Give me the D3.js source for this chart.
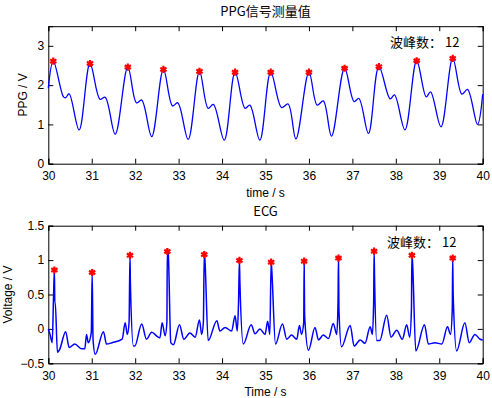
<!DOCTYPE html>
<html>
<head>
<meta charset="utf-8">
<script src="https://cdn.jsdelivr.net/npm/d3@7"></script>
<style>
  body { margin: 0; background: #fff; }
  text { font-family: "Liberation Sans", Arial, sans-serif; }
  .cjk { font-family: "Noto Sans CJK SC", "Liberation Sans", sans-serif; }
</style>
</head>
<body>
<div class="container"></div>
<script>
const WIDTH = 492;
const HEIGHT = 398;

// PPG key points (time in s, value in V)
var ppgTime = [30.0, 30.115, 30.35, 30.40, 30.48, 30.71, 30.96, 31.19, 31.31, 31.54, 31.83, 32.03, 32.15, 32.38,
    32.65, 32.86, 32.98, 33.22, 33.48, 33.68, 33.80, 34.05, 34.30, 34.53, 34.64, 34.87, 35.12, 35.37, 35.52, 35.70,
    36.0, 36.19, 36.33, 36.52, 36.82, 37.04, 37.15, 37.37, 37.61, 37.87, 37.97, 38.21, 38.48, 38.70, 38.80, 39.04,
    39.31, 39.52, 39.65, 39.88, 40.0];
var ppgValue = [1.92, 2.61, 1.70, 1.68, 1.78, 0.86, 2.55, 1.64, 1.69, 0.75, 2.46, 1.55, 1.62, 0.69,
    2.40, 1.47, 1.55, 0.62, 2.35, 1.41, 1.51, 0.60, 2.33, 1.41, 1.49, 0.60, 2.33, 1.43, 1.52, 0.63,
    2.33, 1.49, 1.60, 0.70, 2.43, 1.58, 1.66, 0.77, 2.47, 1.65, 1.75, 0.86, 2.62, 1.70, 1.83, 0.94,
    2.68, 1.77, 1.89, 1.00, 1.77];
var ppgPeakTime = [30.115, 30.96, 31.83, 32.65, 33.48, 34.30, 35.12, 36.0, 36.82, 37.61, 38.48, 39.31];
var ppgPeakValue = [2.61, 2.55, 2.46, 2.40, 2.35, 2.33, 2.33, 2.33, 2.43, 2.47, 2.62, 2.68];

// ECG key points (time in s, voltage in V)
var ecgTime = [30.0, 30.04, 30.09, 30.12, 30.14, 30.15, 30.16, 30.21, 30.26, 30.40, 30.48, 30.61, 30.77, 30.84,
    30.88, 30.92, 30.99, 31.01, 31.03, 31.08, 31.27, 31.34, 31.47, 31.70, 31.77, 31.82, 31.86, 31.88, 31.89, 31.96, 31.99,
    32.15, 32.26, 32.38, 32.53, 32.57, 32.62, 32.69, 32.73, 32.74, 32.76, 32.82, 32.88, 33.02, 33.12, 33.26, 33.38,
    33.48, 33.53, 33.57, 33.59, 33.60, 33.68, 33.88, 33.95, 34.07, 34.22, 34.30, 34.35, 34.38, 34.40, 34.41, 34.49,
    34.67, 34.76, 34.87, 34.99, 35.05, 35.10, 35.13, 35.14, 35.23, 35.39, 35.49, 35.60, 35.72, 35.78, 35.83, 35.88,
    35.89, 35.90, 35.99, 36.14, 36.22, 36.33, 36.45, 36.56, 36.64, 36.67, 36.68, 36.69, 36.75, 36.95, 37.04, 37.18,
    37.29, 37.41, 37.46, 37.49, 37.50, 37.51, 37.56, 37.63, 37.79, 37.89, 38.02, 38.15, 38.25, 38.32, 38.36, 38.37,
    38.38, 38.46, 38.66, 38.75, 38.90, 39.06, 39.19, 39.26, 39.30, 39.31, 39.32, 39.40, 39.59, 39.69, 39.82, 39.94, 40.0];
var ecgValue = [0.0, -0.08, -0.20, 0.45, 0.855, 0.38, 0.38, -0.34, -0.30, -0.04, -0.27, -0.22, -0.29, -0.29,
    -0.08, -0.20, -0.05, 0.82, -0.15, -0.37, -0.04, -0.22, -0.20, -0.15, 0.09, -0.08, 0.10, 1.07, 0.66, -0.25, -0.25,
    0.07, -0.15, -0.05, -0.12, -0.13, 0.09, -0.10, 0.10, 1.125, 1.10, -0.20, -0.23, 0.06, -0.15, -0.06, -0.12,
    0.13, -0.08, 0.10, 1.08, 1.05, -0.17, 0.12, -0.03, 0.02, -0.03, 0.19, -0.03, 0.40, 0.995, 0.70, -0.22,
    0.06, -0.07, 0.0, -0.08, 0.11, -0.08, 0.97, 0.90, -0.22, 0.07, -0.15, -0.09, -0.15, 0.05, -0.08, 0.10,
    0.985, 0.20, -0.31, 0.02, -0.16, -0.09, -0.14, 0.08, -0.08, 0.40, 1.03, 0.30, -0.26, 0.05, -0.25, -0.16,
    -0.21, 0.03, -0.08, 0.40, 1.13, 0.77, -0.17, -0.17, 0.20, -0.12, -0.02, -0.15, 0.06, -0.12, 0.30, 1.07,
    1.02, -0.32, 0.06, -0.22, -0.20, -0.22, 0.03, -0.08, 0.30, 1.03, 0.50, -0.32, 0.09, -0.20, -0.08, -0.15, -0.16];
var ecgPeakTime = [30.14, 31.01, 31.88, 32.74, 33.59, 34.40, 35.13, 35.89, 36.68, 37.50, 38.37, 39.31];
var ecgPeakValue = [0.855, 0.82, 1.07, 1.125, 1.08, 0.995, 0.97, 0.985, 1.03, 1.13, 1.07, 1.03];

var xTicks = [30, 31, 32, 33, 34, 35, 36, 37, 38, 39, 40];
var ppgYTicks = [0, 1, 2, 3];
var ecgYTicks = [-0.5, 0, 0.5, 1, 1.5];

var drawPanel = function(svg, opt){
    var x = d3.scaleLinear().domain([30, 40]).range([48.3, 482.7]);
    var y = d3.scaleLinear().domain(opt.yDomain).range([opt.bottom, opt.top]);
    var g = svg.append("g");

    // axes, MATLAB style: ticks inside on all four sides
    var tick = 5;
    g.append("g").attr("transform", "translate(0," + opt.bottom + ")")
        .call(d3.axisBottom(x).tickValues(xTicks).tickSize(-tick).tickPadding(8).tickFormat(d3.format("d")));
    g.append("g").attr("transform", "translate(0," + opt.top + ")")
        .call(d3.axisTop(x).tickValues(xTicks).tickSize(-tick).tickFormat(""));
    g.append("g").attr("transform", "translate(48.3,0)")
        .call(d3.axisLeft(y).tickValues(opt.yTicks).tickSize(-tick).tickPadding(4).tickFormat(d3.format("")));
    g.append("g").attr("transform", "translate(482.7,0)")
        .call(d3.axisRight(y).tickValues(opt.yTicks).tickSize(-tick).tickFormat(""));
    g.selectAll(".domain").attr("stroke", "#000");
    g.selectAll(".tick line").attr("stroke", "#000");
    g.selectAll(".tick text").attr("font-size", 12).attr("fill", "#000");

    var line = d3.line()
        .x(function(d){ return x(d[0]); })
        .y(function(d){ return y(d[1]); })
        .curve(opt.curve);
    g.append("path")
        .datum(d3.zip(opt.t, opt.v))
        .attr("d", line)
        .attr("fill", "none")
        .attr("stroke", "#0000ff")
        .attr("stroke-width", opt.lw);

    var star = d3.symbol().type(d3.symbolAsterisk).size(36);
    g.selectAll(".pk").data(d3.zip(opt.pt, opt.pv)).enter()
        .append("path")
        .attr("class", "pk")
        .attr("transform", function(d){ return "translate(" + x(d[0]) + "," + y(d[1]) + ")"; })
        .attr("d", star)
        .attr("fill", "none")
        .attr("stroke", "#ff0000")
        .attr("stroke-width", 2.2);

    var mid = (48.3 + 482.7) / 2;
    svg.append("text").attr("x", mid).attr("y", opt.top - 10)
        .attr("text-anchor", "middle").attr("font-size", 13).attr("class", "cjk").text(opt.title);
    svg.append("text").attr("x", mid).attr("y", opt.bottom + 33)
        .attr("text-anchor", "middle").attr("font-size", 12).text(opt.xLabel);
    svg.append("text")
        .attr("transform", "translate(" + opt.yLabelX + "," + (opt.top + opt.bottom) / 2 + ") rotate(-90)")
        .attr("text-anchor", "middle").attr("font-size", 12).text(opt.yLabel);
    svg.append("text").attr("x", opt.noteX).attr("y", opt.top + 21)
        .attr("font-size", 13).attr("class", "cjk").text("波峰数： " + opt.pt.length);
};

var load = function(){
    var svg = d3.select(".container")
        .append("svg")
        .attr("width", WIDTH)
        .attr("height", HEIGHT);

    drawPanel(svg, {top: 26.2, bottom: 163.7, yDomain: [0, 3.5], yTicks: ppgYTicks,
        t: ppgTime, v: ppgValue, pt: ppgPeakTime, pv: ppgPeakValue, curve: d3.curveCatmullRom, lw: 1.3,
        title: "PPG信号测量值", xLabel: "time / s", yLabel: "PPG / V", yLabelX: 27, noteX: 390});
    drawPanel(svg, {top: 225.7, bottom: 363.3, yDomain: [-0.5, 1.5], yTicks: ecgYTicks,
        t: ecgTime, v: ecgValue, pt: ecgPeakTime, pv: ecgPeakValue, curve: d3.curveMonotoneX, lw: 1.5,
        title: "ECG", xLabel: "Time / s", yLabel: "Voltage / V", yLabelX: 12, noteX: 387});
};

window.onload = load;
</script>
</body>
</html>
